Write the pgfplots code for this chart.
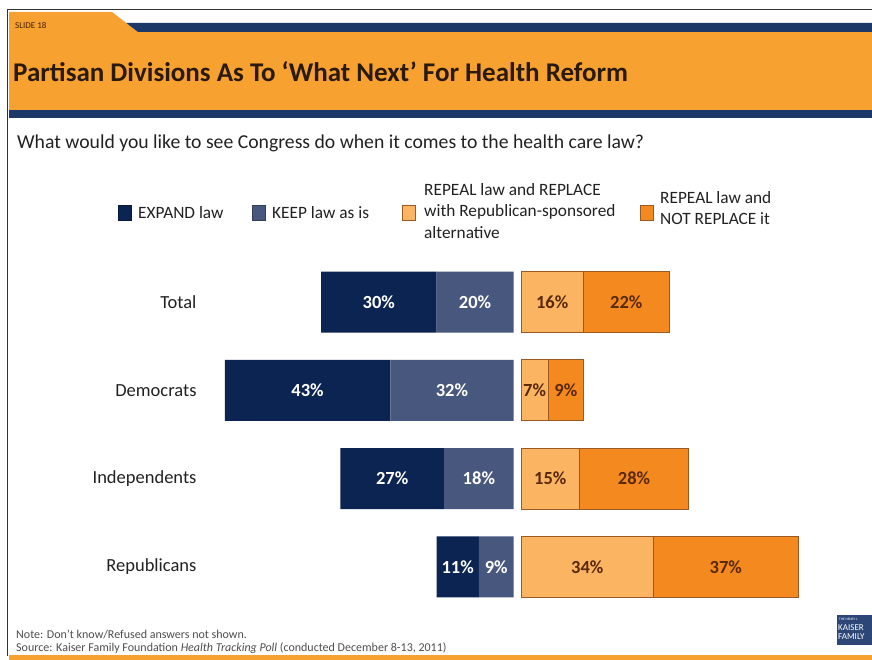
\documentclass[border=0pt]{standalone}
\usepackage{pgfplots}
\pgfplotsset{compat=1.18}
\usepackage{fontspec}
\setmainfont{Carlito}
\definecolor{expand}{HTML}{0C2452}
\definecolor{keep}{HTML}{48577E}
\definecolor{replace}{HTML}{FBB462}
\definecolor{notrep}{HTML}{F4891F}
\definecolor{brownline}{HTML}{9A5A24}
\definecolor{hdrorange}{HTML}{F7A130}
\definecolor{hdrnavy}{HTML}{1C3868}
\definecolor{titlecol}{HTML}{2A1A0E}
\definecolor{textdark}{HTML}{222222}
\definecolor{labbrown}{HTML}{5A2A08}
\definecolor{framecol}{HTML}{333333}
\definecolor{logocol}{HTML}{2B4677}
\pgfplotsset{
  base/.style={at={(200pt,49pt)}, anchor=south west, width=620pt, height=353pt,
    scale only axis, ymin=-0.5, ymax=3.5, y dir=reverse, clip=false},
  leftx/.style={xmin=-81.43, xmax=79.61},
  rightx/.style={xmin=-82.31, xmax=76.67},
}
\begin{document}
\begin{tikzpicture}[x=1pt,y=1pt]
\useasboundingbox (0,0) rectangle (872,660);
\fill[white] (0,0) rectangle (872,660);
% header
\fill[hdrorange] (9,648) -- (112,648) -- (138,628) -- (872,628) -- (872,550) -- (9,550) -- cycle;
\fill[hdrnavy] (126.3,637) -- (872,637) -- (872,628) -- (138,628) -- cycle;
\fill[hdrnavy] (9,550) rectangle (872,542);
\draw[framecol, line width=1.5pt] (7.5,4) -- (7.5,650.5) -- (872,650.5);
\node[anchor=west, inner sep=0pt, text=labbrown!80!black, font=\fontsize{9}{10}\selectfont] at (15,635) {SLIDE 18};
\node[anchor=west, inner sep=0pt, text=titlecol, font=\fontsize{27}{31}\selectfont\bfseries] at (13,588) {Partisan Divisions As To ‘What Next’ For Health Reform};
\node[anchor=west, inner sep=0pt, text=textdark, font=\fontsize{19.7}{23}\selectfont] at (17,517) {What would you like to see Congress do when it comes to the health care law?};
% legend
\begin{scope}[font=\fontsize{17.3}{21.5}\selectfont, text=textdark]
\filldraw[fill=expand, draw=expand!70!black] (118,455) rectangle (131,440);
\node[anchor=west, inner sep=0pt] at (138,447) {EXPAND law};
\filldraw[fill=keep, draw=keep!70!black] (252,455) rectangle (265,440);
\node[anchor=west, inner sep=0pt] at (272,447) {KEEP law as is};
\filldraw[fill=replace, draw=brownline] (402,455) rectangle (415,440);
\node[anchor=west, inner sep=0pt, align=left] at (424,449) {REPEAL law and REPLACE\\with Republican-sponsored\\alternative};
\filldraw[fill=notrep, draw=brownline] (640,455) rectangle (653,440);
\node[anchor=west, inner sep=0pt, align=left] at (660,452) {REPEAL law and\\NOT REPLACE it};
\end{scope}
% left bars
\begin{axis}[base, leftx, xbar stacked, bar width=61pt,
  ytick={0,1,2,3}, yticklabels={Total,Democrats,Independents,Republicans},
  yticklabel style={font=\fontsize{18.5}{21}\selectfont, text=textdark},
  xtick=\empty, axis line style={draw=none}, major tick length=0pt]
\addplot[fill=keep, draw=none] coordinates {(-20,0) (-32,1) (-18,2) (-9,3)};
\addplot[fill=expand, draw=none] coordinates {(-30,0) (-43,1) (-27,2) (-11,3)};
\end{axis}
% right bars
\begin{axis}[base, rightx, hide axis, xbar stacked, bar width=61pt]
\addplot[fill=replace, draw=brownline, line width=0.8pt] coordinates {(16,0) (7,1) (15,2) (34,3)};
\addplot[fill=notrep, draw=brownline, line width=0.8pt] coordinates {(22,0) (9,1) (28,2) (37,3)};
\end{axis}
% left labels
\begin{axis}[base, leftx, hide axis]
\addplot[draw=none, mark=none, nodes near coords, point meta=explicit symbolic,
  every node near coord/.append style={anchor=center, text=white, font=\fontsize{18.5}{21}\selectfont\bfseries}]
  coordinates {(-10,0) [20\%] (-16,1) [32\%] (-9,2) [18\%] (-4.5,3) [9\%]
               (-35,0) [30\%] (-53.5,1) [43\%] (-31.5,2) [27\%] (-14.5,3) [11\%]};
\end{axis}
% right labels
\begin{axis}[base, rightx, hide axis]
\addplot[draw=none, mark=none, nodes near coords, point meta=explicit symbolic,
  every node near coord/.append style={anchor=center, text=labbrown, font=\fontsize{18.5}{21}\selectfont\bfseries}]
  coordinates {(8,0) [16\%] (3.5,1) [7\%] (7.5,2) [15\%] (17,3) [34\%]
               (27,0) [22\%] (11.5,1) [9\%] (29,2) [28\%] (52.5,3) [37\%]};
\end{axis}
% footer
\node[anchor=west, inner sep=0pt, text=textdark!80, font=\fontsize{12}{13}\selectfont] at (16,25) {Note: Don't know/Refused answers not shown.};
\node[anchor=west, inner sep=0pt, text=textdark!80, font=\fontsize{12}{13}\selectfont] at (16,12) {Source: Kaiser Family Foundation \textit{Health Tracking Poll} (conducted December 8-13, 2011)};
\fill[hdrorange] (9,0) rectangle (872,4.5);
\fill[logocol] (837,45) rectangle (872,15);
\node[anchor=west, inner sep=0pt, text=white, font=\fontsize{3.5}{4}\selectfont] at (839,41) {THE HENRY J.};
\node[anchor=west, inner sep=0pt, text=white, font=\fontsize{9}{10}\selectfont] at (838,32) {KAISER};
\node[anchor=west, inner sep=0pt, text=white, font=\fontsize{9}{10}\selectfont] at (838,23) {FAMILY};
\end{tikzpicture}
\end{document}
